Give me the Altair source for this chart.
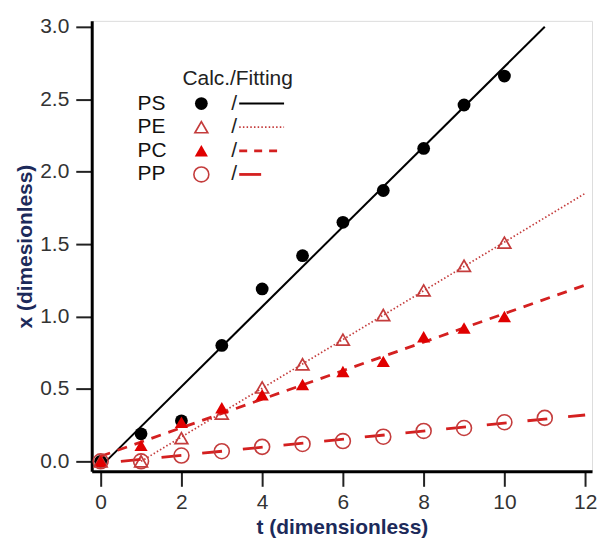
import altair as alt
import pandas as pd

# ---- data ----
t_vals = [0, 1, 2, 3, 4, 5, 6, 7, 8, 9, 10]
ps_vals = [0.0, 0.19, 0.28, 0.80, 1.19, 1.42, 1.65, 1.87, 2.16, 2.46, 2.66]
pe_vals = [0.0, 0.0, 0.16, 0.33, 0.51, 0.67, 0.84, 1.01, 1.18, 1.35, 1.51]
pc_vals = [0.0, 0.11, 0.27, 0.37, 0.46, 0.53, 0.62, 0.69, 0.86, 0.92, 1.00]
pp_t = [0, 1, 2, 3, 4, 5, 6, 7, 8, 9, 10, 11]
pp_vals = [0.0, 0.0, 0.04, 0.07, 0.10, 0.12, 0.14, 0.17, 0.21, 0.23, 0.27, 0.30]

# fitting lines: start/end points
ps_fit_t = [0.13, 11.0]
ps_fit_x = [0.0, 3.0]
pe_fit_t = [1.0, 12.0]
pe_fit_x = [0.0, 1.85]
pc_fit_t = [0.0, 12.0]
pc_fit_x = [0.035, 1.217]
pp_fit_t = [0.5, 12.0]
pp_fit_x = [0.0, 0.32]

series_names = ["PS", "PE", "PC", "PP"]
legend_title = "Calc./Fitting"

BLACK = "#000000"
DARKRED = "#c43c3c"
RED = "#e00000"
LINERED = "#d42020"
FONT = "Liberation Sans"
TITLE_COLOR = "#1c2a5a"

xscale = alt.Scale(domain=[-0.222, 12.17], nice=False, zero=False)
yscale = alt.Scale(domain=[-0.069, 3.041], nice=False, zero=False)

x_enc = alt.X("t:Q", scale=xscale, axis=alt.Axis(
    values=[0, 2, 4, 6, 8, 10, 12], title="t (dimensionless)", grid=False,
    domainWidth=3, domainColor="black", tickSize=15, tickWidth=2, tickColor="#222",
    labelFontSize=21, labelColor="#333", labelFont=FONT, labelPadding=5,
    labelBound=False, labelFlush=False,
    titleFont=FONT, titleFontSize=21, titleFontWeight="bold", titleColor=TITLE_COLOR,
    titlePadding=4, format="d"))
y_enc = alt.Y("x:Q", scale=yscale, axis=alt.Axis(
    values=[0, 0.5, 1, 1.5, 2, 2.5, 3], title="x (dimesionless)", grid=False,
    domainWidth=3, domainColor="black", tickSize=16, tickWidth=2, tickColor="#222",
    labelFontSize=21, labelColor="#333", labelFont=FONT, labelPadding=7,
    labelBound=False, labelFlush=False,
    titleFont=FONT, titleFontSize=21, titleFontWeight="bold", titleColor=TITLE_COLOR,
    titlePadding=4, format=".1f"))


def pts(tv, xv):
    return pd.DataFrame({"t": tv, "x": xv})


def fit_line(tv, xv, color, width, dash):
    kw = dict(color=color, strokeWidth=width, clip=True)
    if dash:
        kw["strokeDash"] = dash
    return alt.Chart(pts(tv, xv)).mark_line(**kw).encode(x=x_enc, y=y_enc)


layers = [
    fit_line(ps_fit_t, ps_fit_x, BLACK, 2, None),
    alt.Chart(pts(t_vals, ps_vals)).mark_point(shape="circle", filled=True, size=165, color=BLACK, opacity=1).encode(x=x_enc, y=y_enc),
    fit_line(pe_fit_t, pe_fit_x, DARKRED, 1.7, [1.5, 2.2]),
    alt.Chart(pts(t_vals, pe_vals)).mark_point(shape="triangle-up", filled=False, size=165, color=DARKRED, strokeWidth=1.7, opacity=1).encode(x=x_enc, y=y_enc),
    fit_line(pc_fit_t, pc_fit_x, LINERED, 2.8, [10, 8]),
    alt.Chart(pts(t_vals, pc_vals)).mark_point(shape="triangle-up", filled=True, size=175, color=RED, opacity=1).encode(x=x_enc, y=y_enc),
    fit_line(pp_fit_t, pp_fit_x, LINERED, 2.8, [20, 21]),
    alt.Chart(pts(pp_t, pp_vals)).mark_point(shape="circle", filled=False, size=225, color=DARKRED, strokeWidth=1.6, opacity=1).encode(x=x_enc, y=y_enc),
]

# ---- hand-made legend (pixel positions inside plot area) ----
anchor = pd.DataFrame({"k": [0]})
leg_styles = [
    dict(shape="circle", filled=True, size=165, color=BLACK, line=BLACK, lw=2, dash=None, stroke=None, x2=193),
    dict(shape="triangle-up", filled=False, size=165, color=DARKRED, line=DARKRED, lw=1.7, dash=[1.5, 2.2], stroke=1.7, x2=193),
    dict(shape="triangle-up", filled=True, size=175, color=RED, line=LINERED, lw=2.8, dash=[8, 7], stroke=None, x2=193),
    dict(shape="circle", filled=False, size=225, color=DARKRED, line=LINERED, lw=2.8, dash=None, stroke=1.6, x2=170),
]

layers.append(alt.Chart(anchor).mark_text(
    text=legend_title, font=FONT, fontSize=21, color="#222", align="left", baseline="middle"
).encode(x=alt.value(91), y=alt.value(58)))

for i, (name, st) in enumerate(zip(series_names, leg_styles)):
    yy = 83 + i * 23.7
    layers.append(alt.Chart(anchor).mark_text(
        text=name, font=FONT, fontSize=21, color="#111", align="left", baseline="middle"
    ).encode(x=alt.value(46), y=alt.value(yy)))
    pk = dict(shape=st["shape"], filled=st["filled"], size=st["size"], color=st["color"], opacity=1)
    if st["stroke"]:
        pk["strokeWidth"] = st["stroke"]
    layers.append(alt.Chart(anchor).mark_point(**pk).encode(x=alt.value(110), y=alt.value(yy)))
    layers.append(alt.Chart(anchor).mark_text(
        text="/", font=FONT, fontSize=21, color="#222", align="left", baseline="middle"
    ).encode(x=alt.value(140), y=alt.value(yy)))
    rk = dict(color=st["line"], strokeWidth=st["lw"])
    if st["dash"]:
        rk["strokeDash"] = st["dash"]
    layers.append(alt.Chart(anchor).mark_rule(**rk).encode(
        x=alt.value(148), x2=alt.value(st["x2"]), y=alt.value(yy)))

chart = alt.layer(*layers).properties(
    width=502, height=452,
    autosize=alt.AutoSizeParams(type="none"),
    padding={"left": 84, "top": 12, "right": 6, "bottom": 70},
).configure_view(stroke=None).configure(background="white")

chart.save("out.html", embed_options={"renderer": "svg", "actions": False})
